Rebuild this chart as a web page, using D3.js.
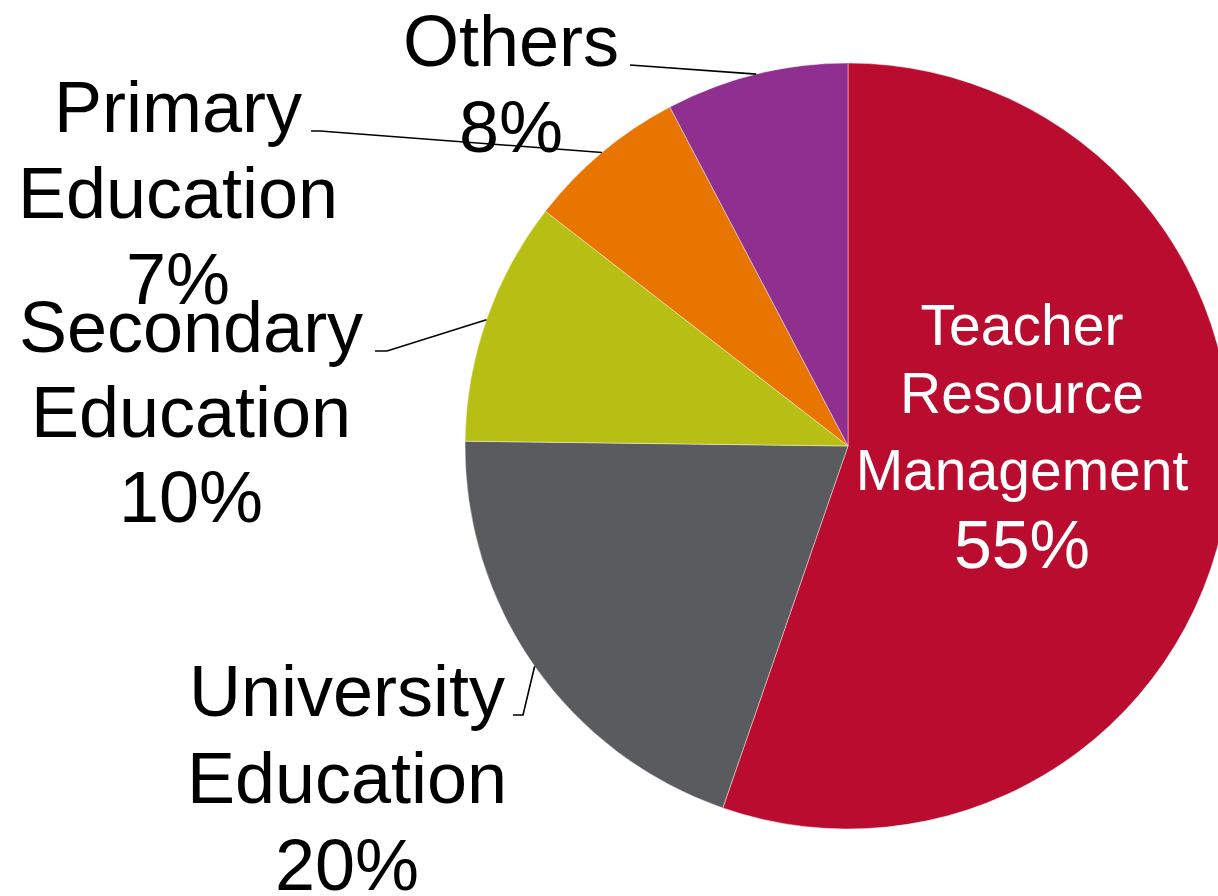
<html>
<head>
    <meta charset="utf-8">
    <title>Pie chart</title>
    <style>
        body { margin: 0; background: #fff; }
        text { font-family: "Liberation Sans", Arial, Helvetica, sans-serif; }
    </style>
</head>
<body>
    <script src="https://cdn.jsdelivr.net/npm/d3@7/dist/d3.min.js" charset="utf-8"></script>
    <script>
        var width = 1218;
        var height = 896;

        // data
        const categories = ["Teacher Resource Management", "University Education", "Secondary Education", "Primary Education", "Others"];
        const labelLines = [["Teacher", "Resource", "Management"], ["University", "Education"], ["Secondary", "Education"], ["Primary", "Education"], ["Others"]];
        const values = [55.3, 19.9, 10.3, 6.8, 7.7];
        const colors = ["#BA0C2F", "#5A5B5E", "#B8BF14", "#E87500", "#8F3091"];

        // label placement (x centre, first baseline, font size, line height, leader start)
        const layout = [
            { x: 1022, y: 345, size: 57, pctSize: 68, gaps: [68, 145, 223], color: "#fff", lead: null },
            { x: 347, y: 716, size: 72, lh: 87, color: "#000", lead: [[513, 715], [523, 715]] },
            { x: 191, y: 352, size: 72, lh: 85, color: "#000", lead: [[375, 351], [387, 351]] },
            { x: 178, y: 132, size: 72, lh: 86, color: "#000", lead: [[311, 131], [320, 131]] },
            { x: 511, y: 66, size: 72, lh: 86, color: "#000", lead: [[630, 65]] }
        ];

        var cx = 848, cy = 446, r = 383;

        var svg = d3.select("body").append("svg")
            .attr("width", width)
            .attr("height", height);

        var pie = d3.pie().sort(null).value(d => d);
        var arcs = pie(values);
        var total = d3.sum(values);

        var arc = d3.arc().innerRadius(0).outerRadius(r);
        var edge = d3.arc().innerRadius(r).outerRadius(r);

        var g = svg.append("g").attr("transform", "translate(" + cx + "," + cy + ")");

        g.selectAll("path")
            .data(arcs)
            .enter()
            .append("path")
            .attr("fill", (d, i) => colors[i])
            .attr("stroke", "#fff")
            .attr("stroke-width", 0.6)
            .attr("stroke-opacity", 0.7)
            .attr("d", arc);

        //引导线
        var line = d3.line();
        arcs.forEach(function (d, i) {
            var L = layout[i];
            if (!L.lead) return;
            var p = edge.centroid(d);
            var pts = L.lead.concat([[p[0] + cx, p[1] + cy]]);
            svg.append("path")
                .attr("d", line(pts))
                .attr("fill", "none")
                .attr("stroke", "#000")
                .attr("stroke-width", 1.6);
        });

        //标签
        arcs.forEach(function (d, i) {
            var L = layout[i];
            var pct = Math.round(d.value / total * 100) + "%";
            var t = svg.append("text")
                .attr("text-anchor", "middle")
                .attr("fill", L.color);
            var lines = labelLines[i].concat([pct]);
            lines.forEach(function (s, j) {
                var y;
                if (L.gaps) y = L.y + (j === 0 ? 0 : L.gaps[j - 1]);
                else y = L.y + j * L.lh;
                var size = (L.pctSize && j === lines.length - 1) ? L.pctSize : L.size;
                t.append("tspan")
                    .attr("x", L.x)
                    .attr("y", y)
                    .attr("font-size", size)
                    .text(s);
            });
        });
    </script>
</body>
</html>
